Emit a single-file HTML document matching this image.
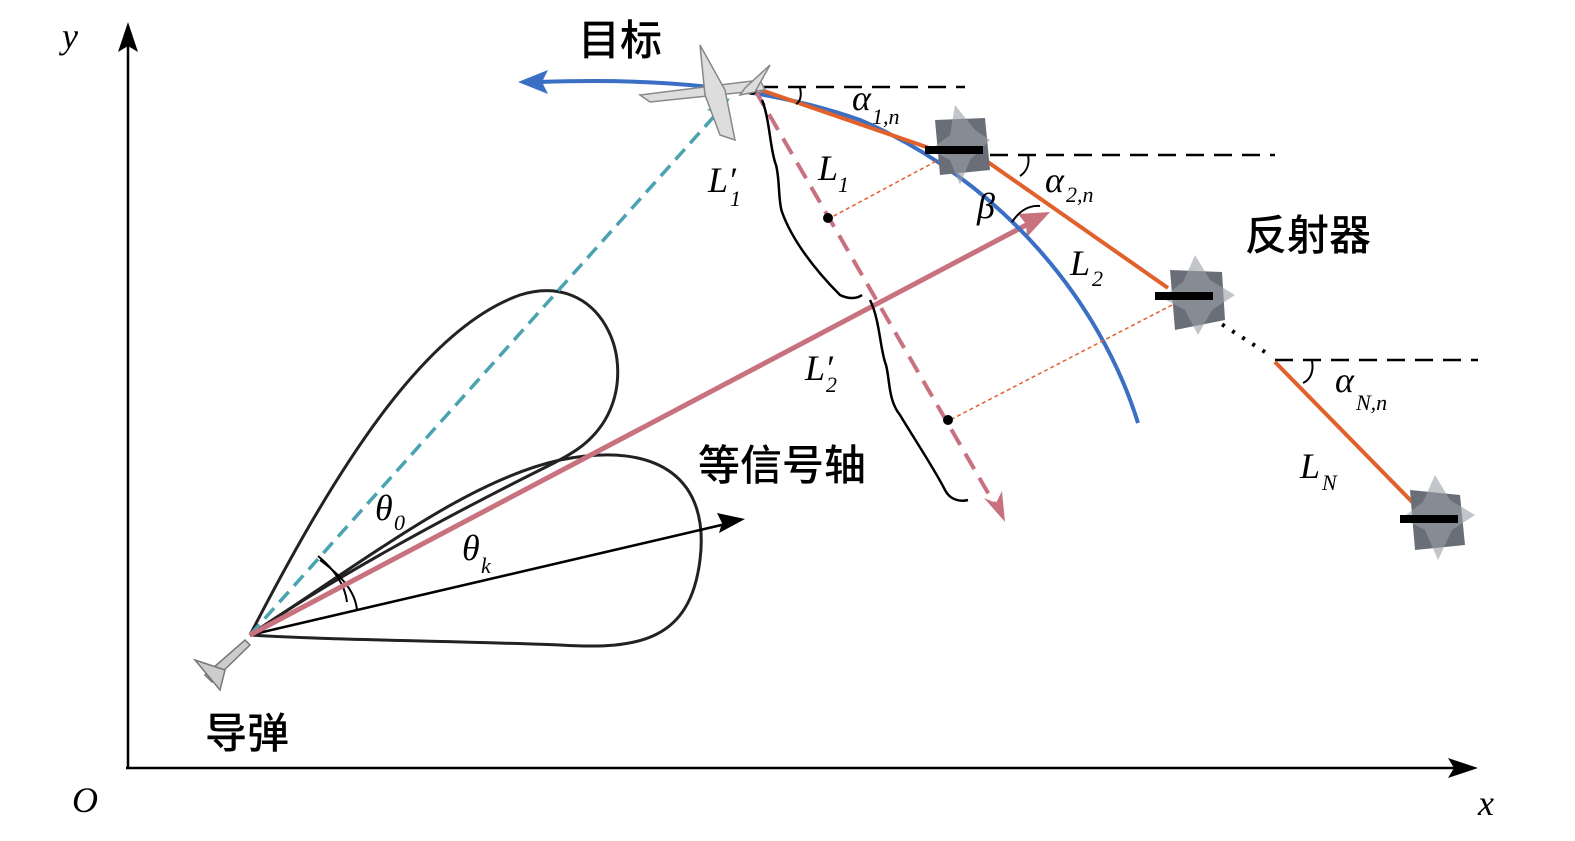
<!DOCTYPE html>
<html><head><meta charset="utf-8"><style>
body{margin:0;background:#fff;width:1575px;height:836px;overflow:hidden}
.m{font-family:"Liberation Serif",serif;font-style:italic;font-size:36px}
.s{font-family:"Liberation Serif",serif;font-style:italic;font-size:22px}
.c{font-family:"Liberation Sans","Noto Sans CJK SC",sans-serif;font-size:42px;font-weight:500}
</style></head><body>
<svg width="1575" height="836" viewBox="0 0 1575 836" xmlns="http://www.w3.org/2000/svg">
<!-- axes -->
<line x1="128" y1="768" x2="128" y2="45" stroke="#000" stroke-width="2.5"/>
<path d="M128,22 L118,52 L128,46 L138,52z" fill="#000"/>
<line x1="126" y1="768" x2="1455" y2="768" stroke="#000" stroke-width="2.5"/>
<path d="M1478,768 L1448,758 L1454,768 L1448,778z" fill="#000"/>
<text x="62" y="48" class="m">y</text>
<text x="72" y="812" class="m">O</text>
<text x="1478" y="815" class="m">x</text>
<!-- lobes -->
<path d="M250,635 C330,480 420,330 520,295 C600,270 640,360 605,420 C590,445 570,455 540,470 C440,520 330,580 250,635" fill="none" stroke="#222" stroke-width="3"/>
<path d="M250,635 C380,550 470,480 560,460 C660,440 710,480 700,560 C690,640 640,650 560,645 C420,640 330,640 250,635" fill="none" stroke="#222" stroke-width="3"/>
<path d="M318,556 C335,570 345,585 347,602" fill="none" stroke="#000" stroke-width="2"/>
<path d="M320,560 C340,575 355,590 357,610" fill="none" stroke="#000" stroke-width="2"/>
<!-- cyan dashed -->
<line x1="250" y1="635" x2="718" y2="112" stroke="#4aa3b0" stroke-width="3.5" stroke-dasharray="14,8"/>
<path d="M730,98 L707,110 L716,113 L718,122z" fill="#4aa3b0"/>
<!-- black arrow -->
<line x1="250" y1="635" x2="730" y2="523" stroke="#000" stroke-width="2.5"/>
<path d="M745,519 L717,513 L722,523 L719,533z" fill="#000"/>
<!-- pink solid -->
<line x1="250" y1="635" x2="1030" y2="223" stroke="#c9727f" stroke-width="5"/>
<path d="M1050,212 L1018,214 L1026,224 L1027,237z" fill="#c9727f"/>
<!-- blue arc -->
<path d="M1138,423 C1100,300 1000,180 860,120 C760,85 650,78 540,82" fill="none" stroke="#3a6fc4" stroke-width="4"/>
<path d="M518,82 L548,70 L542,82 L548,94z" fill="#3a6fc4"/>
<!-- pink dashed -->
<line x1="755" y1="90" x2="995" y2="505" stroke="#c9727f" stroke-width="4" stroke-dasharray="18,10"/>
<path d="M1005,522 L984,498 L996,503 L1002,491z" fill="#c9727f"/>
<!-- black dashed horizontals -->
<line x1="760" y1="87" x2="965" y2="87" stroke="#000" stroke-width="2.5" stroke-dasharray="18,10"/>
<line x1="990" y1="155" x2="1275" y2="155" stroke="#000" stroke-width="2.5" stroke-dasharray="18,10"/>
<line x1="1275" y1="360" x2="1478" y2="360" stroke="#000" stroke-width="2.5" stroke-dasharray="18,10"/>
<!-- orange -->
<line x1="755" y1="88" x2="935" y2="150" stroke="#e0612b" stroke-width="4"/>
<line x1="985" y1="160" x2="1168" y2="288" stroke="#e0612b" stroke-width="4"/>
<line x1="1275" y1="362" x2="1420" y2="510" stroke="#e0612b" stroke-width="4"/>
<line x1="1212" y1="318" x2="1265" y2="352" stroke="#000" stroke-width="4" stroke-dasharray="3,9"/>
<line x1="942" y1="158" x2="830" y2="218" stroke="#e0612b" stroke-width="1.5" stroke-dasharray="4,3"/>
<line x1="1172" y1="305" x2="950" y2="420" stroke="#e0612b" stroke-width="1.5" stroke-dasharray="4,3"/>
<circle cx="828" cy="218" r="5" fill="#000"/>
<circle cx="948" cy="420" r="5" fill="#000"/>
<circle cx="752" cy="90" r="5" fill="#000"/>
<path d="M800,88 C802,96 800,102 796,104" fill="none" stroke="#000" stroke-width="2"/>
<path d="M1028,155 C1030,165 1026,172 1020,176" fill="none" stroke="#000" stroke-width="2"/>
<path d="M1012,222 C1020,210 1030,205 1040,206" fill="none" stroke="#000" stroke-width="2"/>
<path d="M1312,361 C1314,372 1310,380 1303,383" fill="none" stroke="#000" stroke-width="2"/>
<!-- braces -->
<path d="M762,100 C770,120 770,150 776,165 C780,180 778,200 782,212 C792,240 815,270 840,295 C850,300 858,298 862,295" fill="none" stroke="#000" stroke-width="2.5"/>
<path d="M870,300 C880,320 880,350 886,365 C890,380 888,400 900,415 C915,440 935,470 945,490 C950,500 960,502 968,500" fill="none" stroke="#000" stroke-width="2.5"/>
<!-- reflectors -->
<g fill="#6a6e78"><path d="M935,120 L985,118 L990,170 L940,175z"/><path d="M1170,270 L1222,272 L1225,320 L1175,330z"/><path d="M1410,490 L1460,495 L1465,545 L1415,550z"/></g>
<g fill="#9a9ea6"><path d="M955,105 L975,130 L990,140 L970,160 L960,185 L950,160 L930,150 L950,135z" opacity=".6"/><path d="M1195,255 L1210,280 L1235,295 L1212,310 L1198,335 L1185,310 L1162,298 L1183,282z" opacity=".6"/><path d="M1435,475 L1450,500 L1475,515 L1452,530 L1438,560 L1425,530 L1402,518 L1423,502z" opacity=".6"/></g>
<g fill="#000"><rect x="925" y="146" width="58" height="8"/><rect x="1155" y="292" width="58" height="8"/><rect x="1400" y="515" width="58" height="8"/></g>
<!-- planes -->
<g fill="#ddd" stroke="#888" stroke-width="1.5"><path d="M640,95 L760,80 L765,90 L650,102z"/><path d="M700,45 L725,90 L735,140 L720,135 L705,95z"/><path d="M770,65 L745,88 L740,95 L755,92z"/></g>
<g fill="#ccc" stroke="#777" stroke-width="1.5"><path d="M205,675 L245,640 L250,645 L212,682z"/><path d="M195,660 L225,670 L220,690z"/></g>
<!-- text -->
<text x="578" y="55" class="c">目标</text>
<text x="1245" y="250" class="c">反射器</text>
<text x="698" y="480" class="c">等信号轴</text>
<text x="205" y="748" class="c">导弹</text>
<text x="852" y="110" class="m">α</text><text x="872" y="124" class="s">1,<tspan>n</tspan></text>
<text x="1045" y="192" class="m">α</text><text x="1066" y="202" class="s">2,n</text>
<text x="1335" y="392" class="m">α</text><text x="1356" y="410" class="s">N,n</text>
<text x="977" y="218" class="m">β</text>
<text x="818" y="180" class="m">L</text><text x="838" y="192" class="s">1</text>
<text x="1070" y="275" class="m">L</text><text x="1092" y="286" class="s">2</text>
<text x="1300" y="478" class="m">L</text><text x="1322" y="490" class="s">N</text>
<text x="708" y="192" class="m">L′</text><text x="730" y="206" class="s">1</text>
<text x="805" y="380" class="m">L′</text><text x="826" y="392" class="s">2</text>
<text x="375" y="520" class="m">θ</text><text x="394" y="530" class="s">0</text>
<text x="462" y="560" class="m">θ</text><text x="481" y="573" class="s">k</text>
</svg>
</body></html>
